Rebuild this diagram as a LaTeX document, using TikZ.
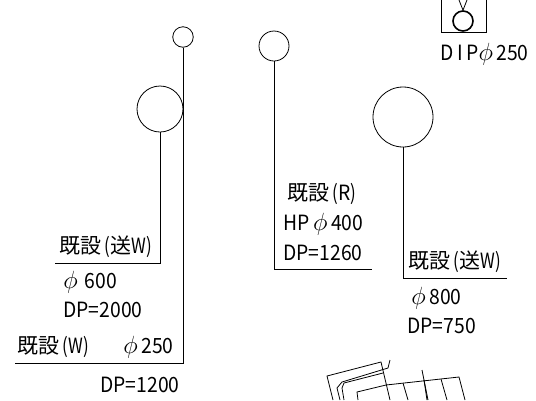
\documentclass[tikz,border=0pt]{standalone}
\usepackage{fontspec}
\setmainfont[FakeStretch=0.92]{Noto Sans CJK JP}
\newfontfamily\kanji{Noto Sans CJK JP}
\newfontfamily\slim[FakeStretch=0.8]{Noto Sans CJK JP}
\usetikzlibrary{positioning}
\tikzset{pipelabel/.style={inner sep=0pt,anchor=west,font=\fontsize{21}{21}\selectfont},
  pipe/.style={draw,circle,inner sep=0pt,line width=0.8pt}}
\newcommand{\dia}{{\fontsize{25}{25}\selectfont$\phi$}\,}
\newcommand{\kid}{{\kanji 既設}}
\newcommand{\sou}{{\kanji 送}}
\begin{document}
\begin{tikzpicture}[x=1pt,y=-1pt,line width=0.8pt]
    \useasboundingbox (0,0) rectangle (536,400);
    % manholes
    \node[pipe,minimum size=20.5pt] (a) at (183,37) {};
    \node[pipe,minimum size=46pt] (b) at (160,109) {};
    \node[pipe,minimum size=30pt] (c) at (274,46) {};
    \node[pipe,minimum size=60pt] (d) at (403,117) {};
    \coordinate (ae) at (183,363);
    \coordinate (be) at (160,263);
    \coordinate (ce) at (274,269);
    \coordinate (de) at (403,278);
    \coordinate (af) at (15,363);
    \coordinate (bf) at (55,263);
    \coordinate (cf) at (372,269);
    \coordinate (df) at (507,278);
    \draw (a) -- (ae) -- (af);
    \draw (b) -- (be) -- (bf);
    \draw (c) -- (ce) -- (cf);
    \draw (d) -- (de) -- (df);
    % labels
    \node[pipelabel] (l1) at (59,247) {\kid\,{\slim(}\sou{\slim W)}};
    \node[pipelabel] (l2) at (63,282) {\dia\,600};
    \node[pipelabel] (l3) at (63,310) {DP=2000};
    \node[pipelabel] (l4) at (17,347) {\kid\,{\slim(W)}};
    \node[pipelabel] (l5) at (123,347) {\dia 250};
    \node[pipelabel] (l6) at (100,385) {DP=1200};
    \node[pipelabel] (l7) at (287,194) {\kid\,{\slim(}R{\slim)}};
    \node[pipelabel] (l8) at (283,224) {HP\,\dia 400};
    \node[pipelabel] (l9) at (283,253) {DP=1260};
    \node[pipelabel] (l10) at (408,262) {\kid\,{\slim(}\sou{\slim W)}};
    \node[pipelabel] (l11) at (411,298) {\dia 800};
    \node[pipelabel] (l12) at (407,326) {DP=750};
    \node[pipelabel] (l13) at (440,54) {D\,I\,P\dia 250};
    % inlet
    \node[pipe,minimum size=20pt,line width=1.6pt] (e) at (463,21) {};
    \coordinate (t1) at (441,0);
    \coordinate (t2) at (441,32);
    \coordinate (t3) at (486,32);
    \coordinate (t4) at (486,0);
    \coordinate (v1) at (459,0);
    \coordinate (v2) at (467,0);
    \draw (t1) -- (t2) -- (t3) -- (t4);
    \draw (v1) -- (e.north) -- (v2);
    % structure
    \draw (333,400) -- (327,376) -- (381,362) -- (390,400);
    \draw (340,400) -- (337,388) -- (342,382) -- (388,368) -- (390,360);
    \draw (344,400) -- (342,388) -- (344,383) -- (383,373);
    \draw (358,400) -- (357,392) -- (386,385) -- (459,377) -- (465,400);
    \draw (403,383) -- (408,400);
    \draw (441,379) -- (447,400);
    \draw (422,370) -- (428,400);
    \draw (424,380) -- (427,400);
\end{tikzpicture}
\end{document}
